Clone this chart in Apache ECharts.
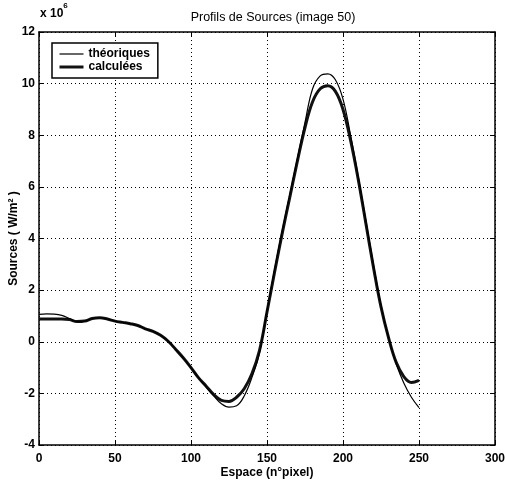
<!DOCTYPE html>
<html>
<head>
<meta charset="utf-8">
<script src="https://cdn.jsdelivr.net/npm/echarts@6/dist/echarts.min.js"></script>
<style>html,body{margin:0;padding:0;background:#fff}#c{width:505px;height:484px}</style>
</head>
<body>
<div id="c"></div>
<script>
var xs = [0,5,10,15,20,25,30,35,40,45,50,55,60,65,70,75,80,85,90,95,100,105,110,115,120,125,130,135,140,145,150,155,160,165,170,175,180,185,190,195,200,205,210,215,220,225,230,235,240,245,250];
var theoriques = [1.06,1.08,1.07,1.02,0.9,0.78,0.8,0.9,0.93,0.88,0.8,0.75,0.7,0.63,0.5,0.4,0.25,0.02,-0.3,-0.63,-1.0,-1.4,-1.75,-2.1,-2.4,-2.53,-2.48,-2.1,-1.4,-0.45,1.2,2.8,4.3,5.7,7.1,8.5,9.8,10.3,10.38,10.15,9.4,8.0,6.4,4.7,3.0,1.4,0.15,-0.85,-1.6,-2.15,-2.55];
var calculees = [0.88,0.88,0.88,0.88,0.86,0.78,0.8,0.9,0.93,0.88,0.8,0.75,0.7,0.63,0.5,0.4,0.25,0.02,-0.3,-0.63,-1.0,-1.4,-1.72,-2.05,-2.27,-2.31,-2.15,-1.82,-1.25,-0.35,1.15,2.7,4.2,5.6,7.0,8.3,9.3,9.8,9.92,9.7,9.0,7.8,6.3,4.6,2.9,1.35,0.15,-0.8,-1.35,-1.58,-1.5];
var seriesNames = ['théoriques','calculées'];
var titleText = 'Profils de Sources (image 50)';
var xName = 'Espace (n°pixel)';
var yName = 'Sources ( W/m² )';

function pairs(v){ return xs.map(function(x,i){ return [x, v[i]]; }); }
var F = 'Liberation Sans, Arial, Helvetica, sans-serif';
var chart = echarts.init(document.getElementById('c'), null, {renderer:'canvas'});
var axBase = {
  axisLine:{show:true, onZero:false, lineStyle:{color:'#000', width:1.5}},
  axisTick:{show:true, inside:true, length:5, lineStyle:{color:'#000'}},
  splitLine:{show:false}
};
chart.setOption({
  backgroundColor:'#fff',
  animation:false,
  title:{text:titleText, left:268, top:6, textAlign:'center',
    textStyle:{fontFamily:F, fontSize:12.5, fontWeight:'normal', color:'#000'}},
  graphic:[{type:'text', left:40, top:2, style:{
    text:'{a|x 10}{b|6}', fill:'#000',
    rich:{a:{fontFamily:F, fontSize:12, fontWeight:'bold', fill:'#000', verticalAlign:'bottom', lineHeight:18},
          b:{fontFamily:F, fontSize:8, fontWeight:'bold', fill:'#000', verticalAlign:'top', lineHeight:18}}}}],
  legend:{left:52, top:43, orient:'vertical', itemWidth:24, itemHeight:8, itemGap:1,
    padding:[5,8,5,6], borderColor:'#000', borderWidth:1.5, backgroundColor:'#fff',
    itemStyle:{opacity:0},
    textStyle:{fontFamily:F, fontSize:12, fontWeight:'bold', color:'#000'},
    data:[{name:seriesNames[0], lineStyle:{width:1.2, color:'#000'}},
          {name:seriesNames[1], lineStyle:{width:3, color:'#111'}}]},
  grid:{left:39, right:10, top:32, bottom:39, show:false, outerBoundsMode:'none', containLabel:false},
  xAxis:[Object.assign({}, axBase, {type:'value', min:0, max:300, interval:50, position:'bottom',
      name:xName, nameLocation:'middle', nameGap:22, nameMoveOverlap:false,
      nameTextStyle:{fontFamily:F, fontSize:12, fontWeight:'bold', color:'#000'},
      axisLabel:{fontFamily:F, fontSize:12, fontWeight:'bold', color:'#000', margin:8},
      splitLine:{show:true, lineStyle:{color:'#000', type:[1,3], width:1}}}),
    Object.assign({}, axBase, {type:'value', min:0, max:300, interval:50, position:'top', axisLabel:{show:false}})],
  yAxis:[Object.assign({}, axBase, {type:'value', min:-4, max:12, interval:2, position:'left',
      name:yName, nameLocation:'middle', nameGap:19, nameMoveOverlap:false,
      nameTextStyle:{fontFamily:F, fontSize:12, fontWeight:'bold', color:'#000'},
      axisLabel:{fontFamily:F, fontSize:12, fontWeight:'bold', color:'#000', margin:4},
      splitLine:{show:true, lineStyle:{color:'#000', type:[1,3], width:1}}}),
    Object.assign({}, axBase, {type:'value', min:-4, max:12, interval:2, position:'right', axisLabel:{show:false}})],
  series:[
    {name:seriesNames[0], type:'line', data:pairs(theoriques), smooth:0.4, symbol:'none',
      lineStyle:{color:'#000', width:1.2}, itemStyle:{color:'#000'}, z:3},
    {name:seriesNames[1], type:'line', data:pairs(calculees), smooth:0.4, symbol:'none',
      lineStyle:{color:'#111', width:3}, itemStyle:{color:'#111'}, z:2}
  ]
});
</script>
</body>
</html>
